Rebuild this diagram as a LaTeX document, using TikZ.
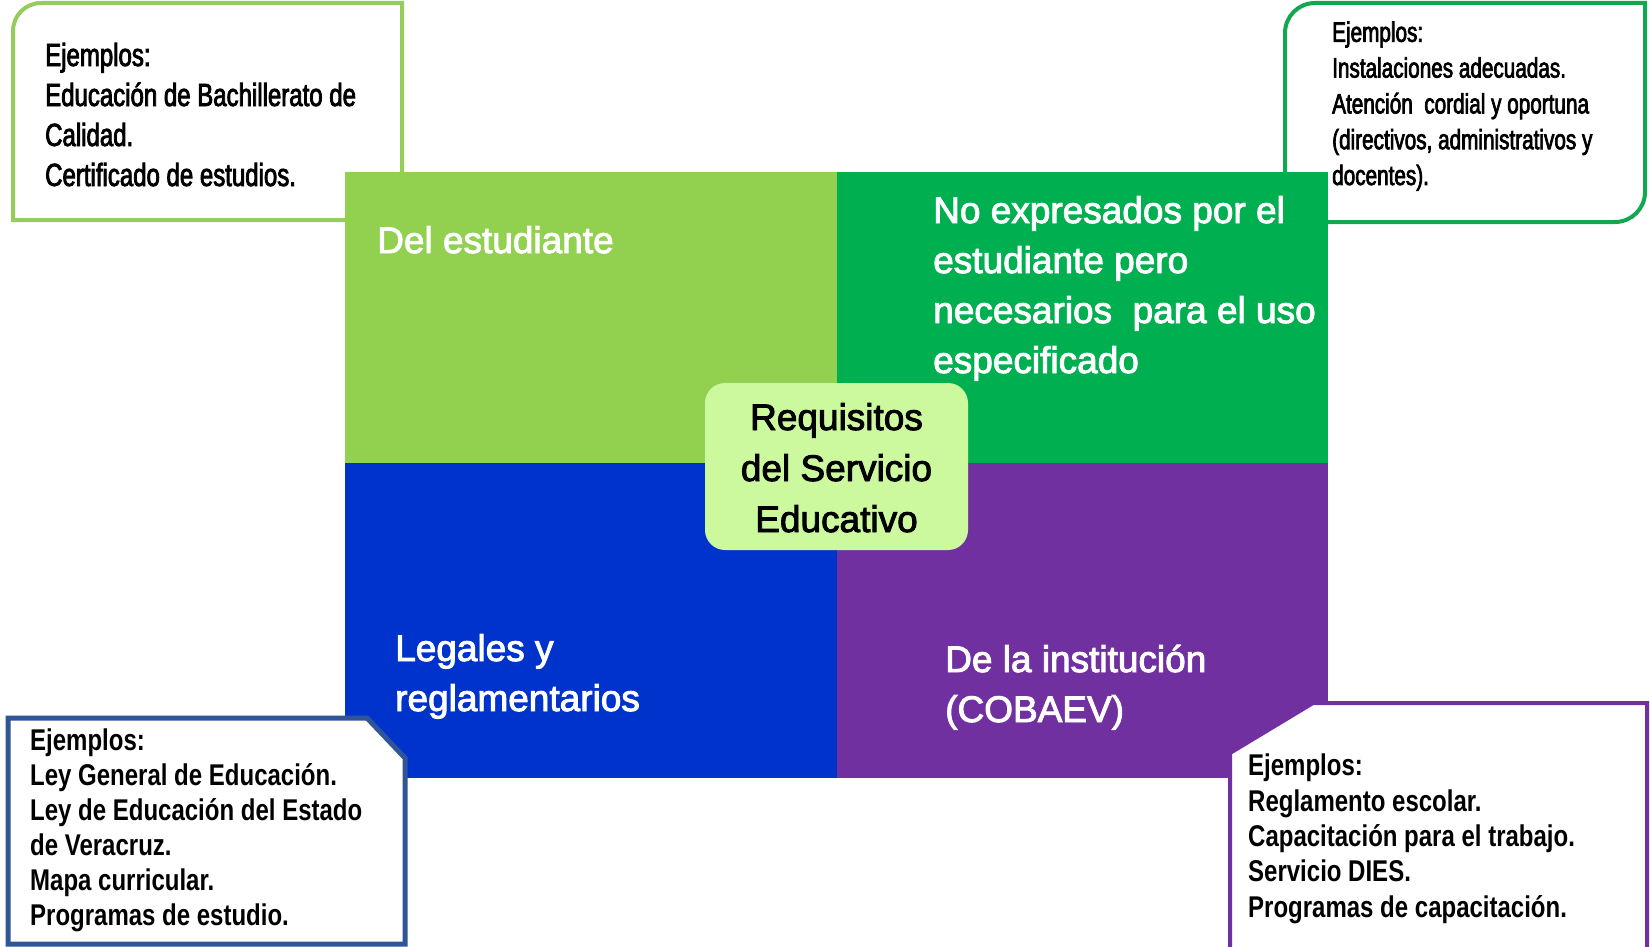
\documentclass[tikz,border=0pt]{standalone}
\usepackage{fontspec}
\setmainfont{Liberation Sans}
\newfontfamily\quadfont[FakeBold=2.5]{Liberation Sans}
\newfontfamily\narrowfont[FakeStretch=0.75,FakeBold=2.5]{Liberation Sans}
\newfontfamily\narrowfonttr[FakeStretch=0.74,FakeBold=2.5]{Liberation Sans}
\newfontfamily\narrowbold[FakeStretch=0.80]{Liberation Sans}
\definecolor{lgreen}{HTML}{92D050}
\definecolor{dgreen}{HTML}{00B050}
\definecolor{qblue}{HTML}{0033CC}
\definecolor{qpurple}{HTML}{7030A0}
\definecolor{cfill}{HTML}{CCF89E}
\definecolor{tlbord}{HTML}{96CC5C}
\definecolor{trbord}{HTML}{12A850}
\definecolor{blbord}{HTML}{2F5597}
\definecolor{brbord}{HTML}{7030A0}
\tikzset{
  quadtext/.style={text=white, anchor=base west, align=left, inner sep=0pt,
    font=\quadfont\fontsize{37}{50}\selectfont},
  centertext/.style={text=black, align=center, inner sep=0pt,
    font=\quadfont\fontsize{37}{51}\selectfont},
  tltext/.style={text=black, anchor=base west, align=left, inner sep=0pt,
    font=\narrowfont\fontsize{32}{40}\selectfont},
  trtext/.style={text=black, anchor=base west, align=left, inner sep=0pt,
    font=\narrowfonttr\fontsize{28}{35.8}\selectfont},
  bottext/.style={text=black, anchor=base west, align=left, inner sep=0pt,
    font=\narrowbold\bfseries\fontsize{30}{35}\selectfont},
  brtext/.style={bottext, font=\narrowbold\bfseries\fontsize{30}{35.3}\selectfont},
}
\begin{document}
\begin{tikzpicture}[x=1pt,y=-1pt]
\useasboundingbox (0,0) rectangle (1650,947);
\fill[white] (0,0) rectangle (1650,947);
\clip (0,0) rectangle (1650,947);
% top example boxes (behind the main square)
\filldraw[fill=white, draw=tlbord, line width=4pt]
  (13,220) -- (13,31) .. controls (13,15.5) and (25.5,3) .. (41,3)
  -- (402,3) -- (402,220) -- cycle;
\filldraw[fill=white, draw=trbord, line width=4pt]
  (1285,222) -- (1285,33) .. controls (1285,16.4) and (1298.4,3) .. (1315,3)
  -- (1645,3) -- (1645,192) .. controls (1645,208.6) and (1631.6,222) .. (1615,222)
  -- cycle;
% quadrants
\fill[lgreen] (345,172) rectangle (837,463);
\fill[dgreen] (837,172) rectangle (1328,463);
\fill[qblue] (345,463) rectangle (837,778);
\fill[qpurple] (837,463) rectangle (1328,778);
% bottom example boxes (in front)
\filldraw[fill=white, draw=blbord, line width=5pt]
  (8,944) -- (8,718) -- (367,718) -- (405,758) -- (405,944) -- cycle;
\filldraw[fill=white, draw=brbord, line width=4pt]
  (1230,970) -- (1230,753) -- (1313,703) -- (1647,703) -- (1647,970);
% centre box
\fill[cfill, rounded corners=20pt] (705,383) rectangle (968,550);
% texts (anchor base = baseline of the last line)
\node[quadtext] (est) at (377,253) {Del estudiante};
\node[quadtext] (noexp) at (933,373) {No expresados por el\\estudiante pero\\necesarios\ \ para el uso\\especificado};
\node[quadtext] (leg) at (395,711) {Legales y\\reglamentarios};
\node[quadtext] (inst) at (945,722) {De la institución\\(COBAEV)};
\node[centertext, anchor=base] (req) at (836.5,532) {Requisitos\\del Servicio\\Educativo};
\node[tltext] (tl) at (45,186) {Ejemplos:\\Educación de Bachillerato de\\Calidad.\\Certificado de estudios.};
\node[trtext] (tr) at (1332,185) {Ejemplos:\\Instalaciones adecuadas.\\Atención\ \ cordial y oportuna\\(directivos, administrativos y\\docentes).};
\node[bottext] (bl) at (30,925) {Ejemplos:\\Ley General de Educación.\\Ley de Educación del Estado\\de Veracruz.\\Mapa curricular.\\Programas de estudio.};
\node[brtext] (br) at (1248,917) {Ejemplos:\\Reglamento escolar.\\Capacitación para el trabajo.\\Servicio DIES.\\Programas de capacitación.};
\end{tikzpicture}
\end{document}
